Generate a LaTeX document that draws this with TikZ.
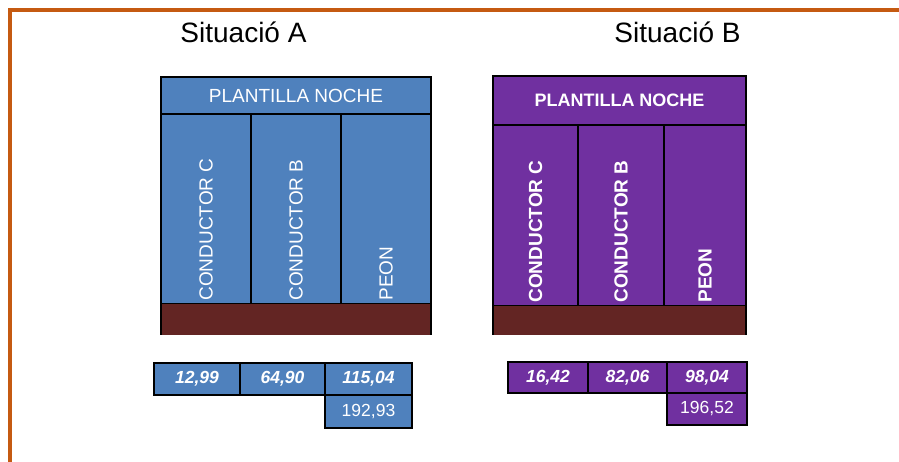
\documentclass[tikz,border=0pt]{standalone}
\usepackage{fontspec}
\setmainfont{Liberation Sans}
\definecolor{blueA}{HTML}{4F81BD}
\definecolor{purpleB}{HTML}{7030A0}
\definecolor{brownbar}{HTML}{632523}
\definecolor{frameorange}{HTML}{C55A11}

\begin{document}
\begin{tikzpicture}[x=1pt,y=-1pt,
    cell/.style={draw=black,line width=1.6pt,inner sep=0pt,text=white},
    bar/.style={fill=brownbar,inner sep=0pt,minimum width=#1},
    vlab/.style={rotate=90,anchor=west,inner sep=0pt,text=white,font=\fontsize{19}{22}\selectfont},
    numtop/.style={cell,font=\fontsize{17.5}{20}\selectfont\bfseries\itshape},
    numsum/.style={cell,font=\fontsize{17.5}{20}\selectfont}]
  \useasboundingbox (0,0) rectangle (899,462);
  \coordinate (fr1) at (899,10);
  \coordinate (fr2) at (10,10);
  \coordinate (fr3) at (10,462);
  \draw[frameorange,line width=4pt] (fr1) -- (fr2) -- (fr3);
  \node[font=\fontsize{28}{32}\selectfont,anchor=base] (titA) at (243.5,43) {Situació A};
  \node[font=\fontsize{28}{32}\selectfont,anchor=base] (titB) at (677.5,43) {Situació B};
  % situacio A
  \node[cell,fill=blueA,minimum width=270pt,minimum height=37pt,font=\fontsize{19}{22}\selectfont]
        (hdrA) at (296,95.5) {PLANTILLA NOCHE};
  \begin{scope}[every node/.style={cell,fill=blueA,minimum width=90pt,minimum height=190pt}]
    \node (colA1) at (206,209) {};
    \node (colA2) at (296,209) {};
    \node (colA3) at (386,209) {};
  \end{scope}
  \node[bar=270pt,minimum height=31pt] (barA) at (296,319.5) {};
  \draw[line width=1.6pt] (barA.north west) -- (barA.south west);
  \draw[line width=1.6pt] (barA.north east) -- (barA.south east);
  \node[vlab] (labA1) at ([yshift=4pt]colA1.south) {CONDUCTOR C};
  \node[vlab] (labA2) at ([yshift=4pt]colA2.south) {CONDUCTOR B};
  \node[vlab] (labA3) at ([yshift=4pt]colA3.south) {PEON};
  \node[numtop,fill=blueA,minimum width=86pt,minimum height=32pt] (nA1) at (197,379) {12,99};
  \node[numtop,fill=blueA,minimum width=85pt,minimum height=32pt] (nA2) at (282.5,379) {64,90};
  \node[numtop,fill=blueA,minimum width=87pt,minimum height=32pt] (nA3) at (368.5,379) {115,04};
  \node[numsum,fill=blueA,minimum width=87pt,minimum height=33pt] (sA) at (368.5,411.5) {192,93};
  % situacio B
  \node[cell,fill=purpleB,minimum width=253pt,minimum height=49pt,font=\fontsize{18}{21}\selectfont\bfseries]
        (hdrB) at (619.5,100.5) {PLANTILLA NOCHE};
  \begin{scope}[every node/.style={cell,fill=purpleB,minimum height=181pt}]
    \node[minimum width=85pt] (colB1) at (535.5,215.5) {};
    \node[minimum width=86pt] (colB2) at (621,215.5) {};
    \node[minimum width=82pt] (colB3) at (705,215.5) {};
  \end{scope}
  \node[bar=253pt,minimum height=29pt] (barB) at (619.5,320.5) {};
  \draw[line width=1.6pt] (barB.north west) -- (barB.south west);
  \draw[line width=1.6pt] (barB.north east) -- (barB.south east);
  \node[vlab,font=\fontsize{19}{22}\selectfont\bfseries] (labB1) at ([yshift=4pt]colB1.south) {CONDUCTOR C};
  \node[vlab,font=\fontsize{19}{22}\selectfont\bfseries] (labB2) at ([yshift=4pt]colB2.south) {CONDUCTOR B};
  \node[vlab,font=\fontsize{19}{22}\selectfont\bfseries] (labB3) at ([yshift=4pt]colB3.south) {PEON};
  \node[numtop,fill=purpleB,minimum width=80pt,minimum height=31pt] (nB1) at (548,377.5) {16,42};
  \node[numtop,fill=purpleB,minimum width=79pt,minimum height=31pt] (nB2) at (627.5,377.5) {82,06};
  \node[numtop,fill=purpleB,minimum width=80pt,minimum height=31pt] (nB3) at (707,377.5) {98,04};
  \node[numsum,fill=purpleB,minimum width=80pt,minimum height=32pt] (sB) at (707,409) {196,52};
\end{tikzpicture}
\end{document}
